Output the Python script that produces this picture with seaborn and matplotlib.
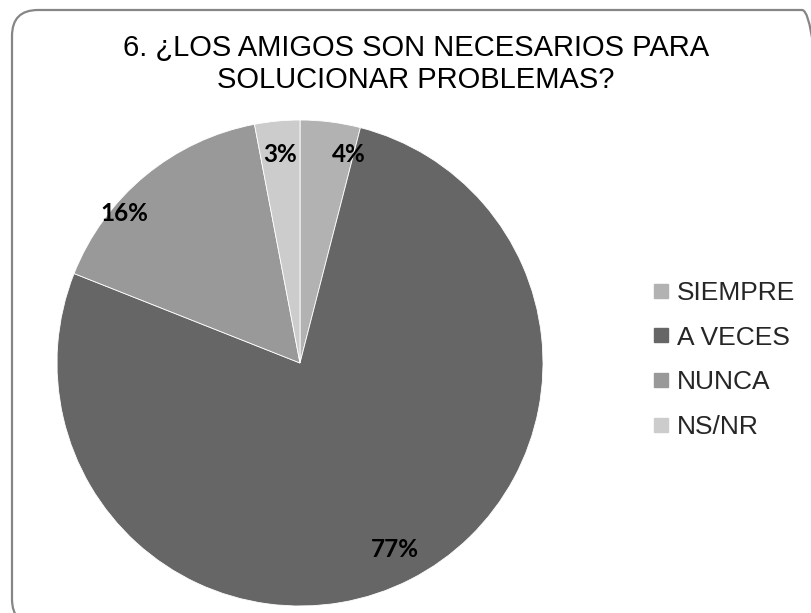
import numpy as np
import matplotlib
matplotlib.use("Agg")
import matplotlib.pyplot as plt
from matplotlib.patches import FancyBboxPatch
from matplotlib.lines import Line2D
import seaborn as sns

# datos de la encuesta
categorias = ["SIEMPRE", "A VECES", "NUNCA", "NS/NR"]
porcentajes = [4, 77, 16, 3]
colores = ["#b2b2b2", "#666666", "#999999", "#cccccc"]
titulo = "6. ¿LOS AMIGOS SON NECESARIOS PARA\nSOLUCIONAR PROBLEMAS?"

# ajuste fino de la posicion de las etiquetas (como lo hace Excel)
etiqueta_dist = [0.88, 0.86, 0.95, 0.86]
etiqueta_giro = [-6, 0, 10, 0]

sns.set_theme(style="white")
plt.rcParams["font.family"] = ["Liberation Sans", "DejaVu Sans"]

fig = plt.figure(figsize=(8.11, 6.13), dpi=100)

# marco redondeado del grafico (se sale por la derecha y por abajo)
marco = FancyBboxPatch((0.12, -0.12), 8.16, 6.15,
                       boxstyle="round,pad=0,rounding_size=0.26",
                       transform=fig.dpi_scale_trans, facecolor="none",
                       edgecolor="#868686", linewidth=1.6, zorder=5)
fig.patches.append(marco)

ax = fig.add_axes([57 / 811, 7 / 613, 486 / 811, 486 / 613])
wedges, _ = ax.pie(porcentajes, colors=colores, startangle=90, counterclock=False,
                   radius=1, wedgeprops=dict(edgecolor="white", linewidth=0.6))
ax.set_xlim(-1, 1)
ax.set_ylim(-1, 1)
ax.set_aspect("equal")
ax.axis("off")

for w, p, d, g in zip(wedges, porcentajes, etiqueta_dist, etiqueta_giro):
    ang = np.deg2rad((w.theta1 + w.theta2) / 2 + g)
    ax.text(d * np.cos(ang), d * np.sin(ang), f"{p}%", ha="center", va="center",
            fontsize=17.5, fontweight="bold", family=["Lato", "DejaVu Sans"], color="black")

fig.text(416 / 811, 1 - 64 / 613, titulo, ha="center", va="center",
         fontsize=21, linespacing=1.15, color="black")

handles = [Line2D([0], [0], marker="s", linestyle="none", markersize=9.5,
                  markerfacecolor=c, markeredgecolor=c) for c in colores]
fig.legend(handles, categorias, loc="center left", bbox_to_anchor=(652 / 811, 1 - 360 / 613),
           frameon=False, fontsize=19, handlelength=0.7, handletextpad=0.25,
           labelspacing=0.78, borderpad=0, borderaxespad=0)

fig.savefig("out.png", dpi=100)
